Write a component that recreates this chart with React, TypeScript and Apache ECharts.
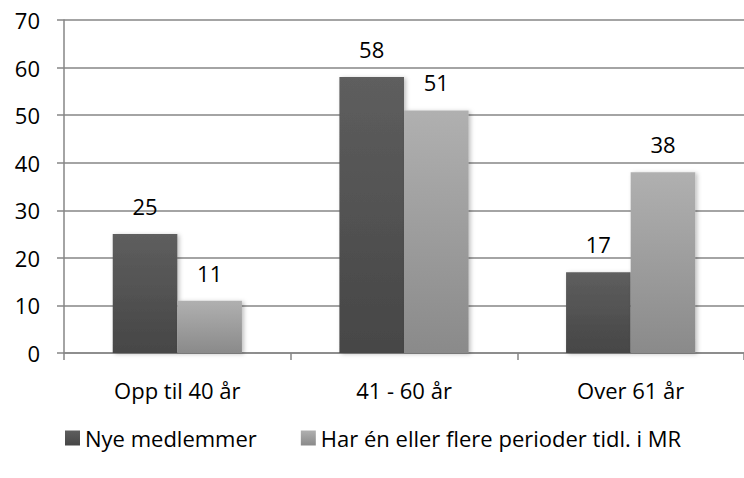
import React, { useEffect, useRef } from "react";
import * as echarts from "echarts";

const categories = ["Opp til 40 år", "41 - 60 år", "Over 61 år"];
const seriesNames = ["Nye medlemmer", "Har én eller flere perioder tidl. i MR"];
const nyeMedlemmer = [25, 58, 17];
const tidligerePerioder = [11, 51, 38];
const yTicks = { min: 0, max: 70, interval: 10 };

const FONT = "Open Sans";

const darkGrad = new echarts.graphic.LinearGradient(0, 0, 0, 1, [
  { offset: 0, color: "#5e5e5e" },
  { offset: 1, color: "#464646" },
]);
const lightGrad = new echarts.graphic.LinearGradient(0, 0, 0, 1, [
  { offset: 0, color: "#b0b0b0" },
  { offset: 1, color: "#8a8a8a" },
]);

export default function App() {
  const ref = useRef<HTMLDivElement>(null);
  useEffect(() => {
    if (!ref.current) return;
    const chart = echarts.init(ref.current, undefined, { renderer: "svg" });
    const label = {
      show: true,
      position: "top" as const,
      distance: 17,
      color: "#000",
      fontFamily: FONT,
      fontSize: 22,
    };
    const shadow = {
      shadowBlur: 4,
      shadowColor: "rgba(0,0,0,0.25)",
      shadowOffsetX: 2,
      shadowOffsetY: 1,
    };
    chart.setOption({
      animation: false,
      backgroundColor: "#fff",
      textStyle: { fontFamily: FONT },
      grid: { left: 64, top: 20, width: 690, height: 333, containLabel: false },
      legend: {
        left: 60,
        top: 422,
        itemWidth: 15,
        itemHeight: 15,
        itemGap: 44,
        icon: "rect",
        textStyle: { fontFamily: FONT, fontSize: 22, color: "#000" },
        data: seriesNames,
      },
      xAxis: {
        type: "category",
        data: categories,
        axisLine: { show: true, lineStyle: { color: "#868686", width: 1.5 } },
        axisTick: { show: true, length: 7, alignWithLabel: false, lineStyle: { color: "#868686", width: 1.5 } },
        axisLabel: { color: "#000", fontFamily: FONT, fontSize: 22, margin: 26 },
      },
      yAxis: {
        type: "value",
        min: yTicks.min,
        max: yTicks.max,
        interval: yTicks.interval,
        axisLine: { show: true, lineStyle: { color: "#868686", width: 1.5 } },
        axisTick: { show: true, length: 7, lineStyle: { color: "#868686", width: 1.5 } },
        splitLine: { show: true, lineStyle: { color: "#868686", width: 1.5 } },
        axisLabel: { color: "#000", fontFamily: FONT, fontSize: 22, margin: 24 },
      },
      series: [
        {
          name: seriesNames[0],
          type: "bar",
          data: nyeMedlemmer,
          barGap: "0%",
          barCategoryGap: "43%",
          itemStyle: { color: darkGrad, ...shadow },
          label,
        },
        {
          name: seriesNames[1],
          type: "bar",
          data: tidligerePerioder,
          barGap: "0%",
          barCategoryGap: "43%",
          itemStyle: { color: lightGrad, ...shadow },
          label,
        },
      ],
    });
    return () => chart.dispose();
  }, []);
  return (
    <div
      ref={ref}
      style={{ position: "absolute", left: 0, top: 0, width: 744, height: 478 }}
    />
  );
}
